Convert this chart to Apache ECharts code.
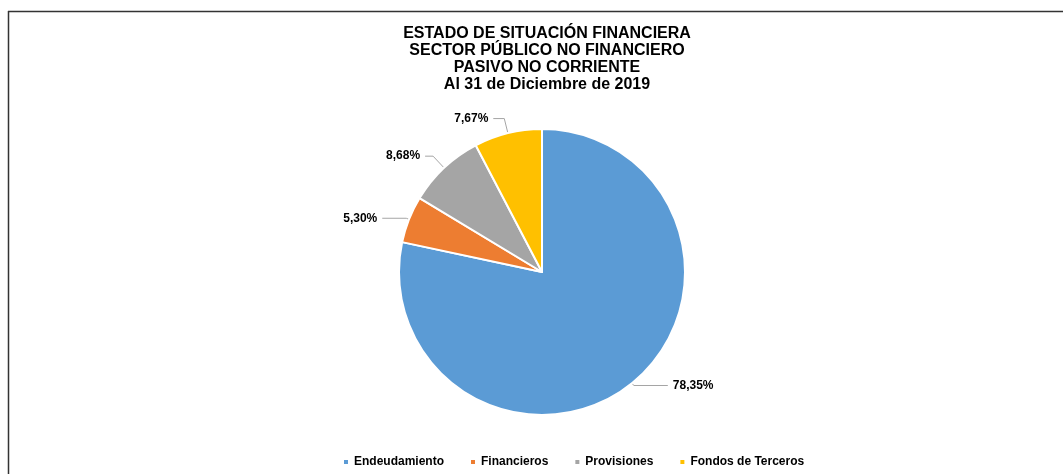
<!DOCTYPE html>
<html><head><meta charset="utf-8">
<script src="https://cdn.jsdelivr.net/npm/echarts@6/dist/echarts.min.js"></script>
<style>html,body{margin:0;padding:0;background:#fff}#c{width:1063px;height:474px}</style>
</head><body><div id="c"></div>
<script>
const categories = ['Endeudamiento', 'Financieros', 'Provisiones', 'Fondos de Terceros'];
const shares = [78.35, 5.30, 8.68, 7.67];
const colors = ['#5B9BD5', '#ED7D31', '#A5A5A5', '#FFC000'];
const titleLines = ['ESTADO DE SITUACIÓN FINANCIERA', 'SECTOR PÚBLICO NO FINANCIERO', 'PASIVO NO CORRIENTE', 'Al 31 de Diciembre de 2019'];

const lineLen = [[3, 34], [3, 24], [16, 8], [15, 11]];

const chart = echarts.init(document.getElementById('c'));
chart.setOption({
  animation: false,
  title: {
    text: titleLines.join('\n'),
    left: 542, top: 20, textAlign: 'center',
    textStyle: { fontFamily: 'Liberation Sans', fontSize: 16, fontWeight: 'bold', color: '#000', lineHeight: 17 }
  },
  legend: {
    bottom: 1, left: 337,
    icon: 'rect', itemWidth: 6, itemHeight: 6, itemGap: 25,
    textStyle: { fontFamily: 'Liberation Sans', fontSize: 12, fontWeight: 'bold', color: '#000' },
    data: categories
  },
  graphic: [
    { type: 'line', shape: { x1: 8.5, y1: 11, x2: 8.5, y2: 474 }, style: { stroke: '#333', lineWidth: 1.5 } },
    { type: 'line', shape: { x1: 8, y1: 11.5, x2: 1063, y2: 11.5 }, style: { stroke: '#333', lineWidth: 1.5 } }
  ],
  series: [{
    type: 'pie',
    center: [542, 272],
    radius: 143,
    startAngle: 90,
    clockwise: true,
    color: colors,
    itemStyle: { borderColor: '#fff', borderWidth: 2 },
    label: {
      show: true,
      formatter: p => p.value.toFixed(2).replace('.', ',') + '%',
      fontFamily: 'Liberation Sans', fontSize: 12, fontWeight: 'bold', color: '#000'
    },
    labelLine: { show: true, lineStyle: { color: '#A5A5A5', width: 1 } },
    data: categories.map((n, i) => ({
      name: n, value: shares[i],
      labelLine: { length: lineLen[i][0], length2: lineLen[i][1] }
    }))
  }]
});
</script></body></html>
